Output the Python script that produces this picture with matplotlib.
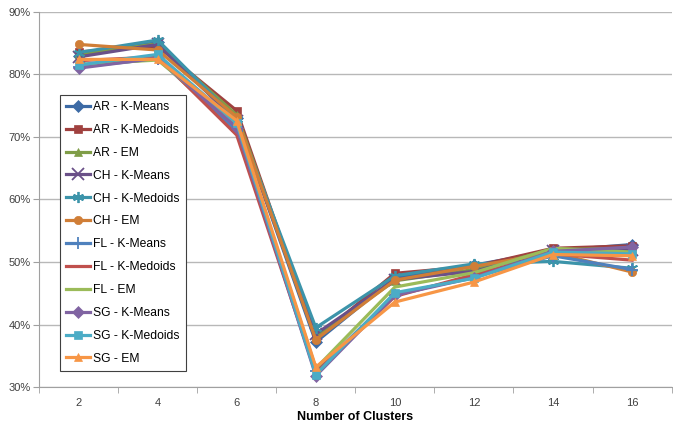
import matplotlib
matplotlib.use("Agg")
import matplotlib.pyplot as plt
from matplotlib.ticker import FixedLocator, PercentFormatter

clusters = ["2", "4", "6", "8", "10", "12", "14", "16"]

ar_kmeans = [83.0, 85.2, 73.0, 37.2, 47.5, 49.5, 51.8, 52.8]
ar_kmedoids = [83.6, 84.5, 74.2, 37.8, 48.2, 49.3, 52.2, 52.6]
ar_em = [83.2, 84.9, 73.5, 38.2, 47.0, 48.8, 52.0, 52.2]
ch_kmeans = [82.8, 84.8, 72.5, 38.5, 47.2, 48.5, 51.8, 52.0]
ch_kmedoids = [83.5, 85.5, 72.8, 39.5, 47.8, 49.7, 50.1, 49.0]
ch_em = [84.8, 83.9, 73.2, 37.6, 47.1, 49.3, 51.5, 48.4]
fl_kmeans = [81.2, 82.5, 71.0, 32.5, 44.8, 47.6, 51.0, 48.8]
fl_kmedoids = [82.2, 82.8, 70.3, 32.3, 44.5, 48.0, 51.3, 50.3]
fl_em = [81.6, 82.3, 72.0, 33.0, 46.0, 48.3, 52.2, 51.6]
sg_kmeans = [81.0, 82.6, 71.5, 31.8, 44.7, 47.5, 51.7, 52.4]
sg_kmedoids = [81.5, 83.2, 72.2, 32.0, 45.1, 47.4, 51.6, 51.3]
sg_em = [82.4, 82.4, 72.6, 33.2, 43.6, 46.8, 51.2, 51.0]

series = [
    ("AR - K-Means", ar_kmeans, "#3c6aa5", "D"),
    ("AR - K-Medoids", ar_kmedoids, "#a0413f", "s"),
    ("AR - EM", ar_em, "#7f9d47", "^"),
    ("CH - K-Means", ch_kmeans, "#6a5088", "x"),
    ("CH - K-Medoids", ch_kmedoids, "#3c94aa", (6, 2, 0)),
    ("CH - EM", ch_em, "#d07e37", "o"),
    ("FL - K-Means", fl_kmeans, "#4f81bd", "+"),
    ("FL - K-Medoids", fl_kmedoids, "#c0504d", None),
    ("FL - EM", fl_em, "#9bbb59", None),
    ("SG - K-Means", sg_kmeans, "#8064a2", "D"),
    ("SG - K-Medoids", sg_kmedoids, "#4bacc6", "s"),
    ("SG - EM", sg_em, "#f79646", "^"),
]

plt.rcParams["font.family"] = ["Liberation Sans", "DejaVu Sans"]

fig = plt.figure(figsize=(6.73, 4.24), dpi=100)
ax = fig.add_axes([0.058, 0.087, 0.94, 0.885])

x = list(range(len(clusters)))
for name, vals, col, mk in series:
    thin = mk in ("x", "+", (6, 2, 0))
    ax.plot(x, vals, color=col, lw=2.3, marker=mk, markersize=8 if thin else 6,
            markeredgewidth=1.3 if thin else 0.5,
            markeredgecolor=col, label=name)

ax.set_xlim(-0.5, len(clusters) - 0.5)
ax.set_ylim(30, 90)
ax.yaxis.set_major_locator(FixedLocator(range(30, 91, 10)))
ax.yaxis.set_major_formatter(PercentFormatter(decimals=0))
ax.set_xticks(x)
ax.set_xticklabels(clusters)
ax.set_xticks([i + 0.5 for i in range(-1, len(clusters))], minor=True)
ax.tick_params(axis="x", which="major", length=0, pad=8, labelsize=8, colors="#404040")
ax.tick_params(axis="x", which="minor", length=4, color="#a0a0a0")
ax.tick_params(axis="y", length=4, color="#a0a0a0", labelsize=8, labelcolor="#404040", pad=2)

ax.grid(axis="y", color="#b8b8b8", lw=1)
ax.set_axisbelow(True)
for s in ("top", "right"):
    ax.spines[s].set_visible(False)
for s in ("left", "bottom"):
    ax.spines[s].set_color("#a0a0a0")

ax.set_xlabel("Number of Clusters", fontsize=9, fontweight="bold", labelpad=2)

leg = ax.legend(loc="upper left", bbox_to_anchor=(0.089, 0.776),
                bbox_transform=fig.transFigure, borderaxespad=0,
                fontsize=8.7, labelspacing=0.9, handlelength=2.0,
                handletextpad=0.25, borderpad=0.5, fancybox=False,
                framealpha=1)
leg.get_frame().set_edgecolor("#404040")
leg.get_frame().set_linewidth(0.8)

fig.savefig("out.png", dpi=100)
